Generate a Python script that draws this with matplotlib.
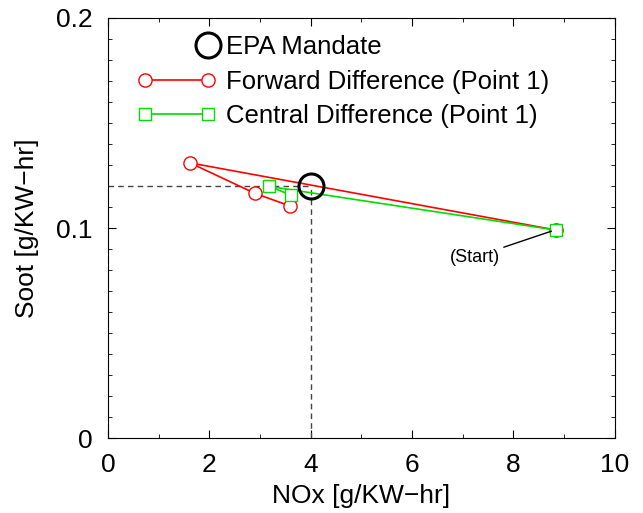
import numpy as np
import matplotlib
matplotlib.use('Agg')
import matplotlib.pyplot as plt
from matplotlib.lines import Line2D
from matplotlib.legend_handler import HandlerLine2D
from matplotlib.ticker import MultipleLocator

plt.rcParams['font.family'] = ['Liberation Sans', 'DejaVu Sans']

# Data
epa_nox, epa_soot = 4.0, 0.12
fwd_nox = [8.85, 1.62, 2.90, 3.59]
fwd_soot = [0.099, 0.131, 0.1165, 0.1105]
cen_nox = [8.85, 3.18, 3.61]
cen_soot = [0.099, 0.1198, 0.1157]


class HandlerRightMarker(HandlerLine2D):
    # put the single marker at the right end of the handle box
    def get_xdata(self, legend, xdescent, ydescent, width, height, fontsize):
        xdata = np.array([-xdescent + width - 0.3 * fontsize] * 2)
        return xdata, xdata


fig = plt.figure(figsize=(6.43, 5.13), dpi=100)
ax = fig.add_axes([0.168, 0.146, 0.788, 0.819])

# guide lines to the EPA mandate
ax.plot([0, epa_nox], [epa_soot, epa_soot], ls=(0, (4, 3)), color='#444444', lw=1)
ax.plot([epa_nox, epa_nox], [0, epa_soot], ls=(0, (4, 3)), color='#444444', lw=1)

ax.plot(fwd_nox, fwd_soot, '-o', color='red', mfc='white', mec='red', ms=9.5, lw=1.2, mew=1)
ax.plot(cen_nox, cen_soot, '-s', color='#00dd00', mfc='white', mec='#00dd00', ms=8, lw=1.2, mew=1)
ax.plot([epa_nox], [epa_soot], 'o', mfc='none', mec='black', ms=18, mew=2.2)

ax.annotate('(Start)', xy=(8.75, 0.0985), xytext=(7.73, 0.0862), fontsize=13,
            ha='right', va='center',
            arrowprops=dict(arrowstyle='-', color='black', lw=1, shrinkA=1, shrinkB=0))

ax.set_xlim(0, 10)
ax.set_ylim(0, 0.2)
ax.set_xticks([0, 2, 4, 6, 8, 10])
ax.set_yticks([0, 0.1, 0.2])
ax.set_yticklabels(['0', '0.1', '0.2'])
ax.xaxis.set_minor_locator(MultipleLocator(1))
ax.yaxis.set_minor_locator(MultipleLocator(0.01))
ax.tick_params(which='both', direction='in', top=True, right=True)
ax.tick_params(which='major', labelsize=19, length=6, pad=11)
ax.tick_params(which='minor', length=3)
ax.set_xlabel('NOx [g/KW\u2212hr]', fontsize=19, labelpad=5)
ax.set_ylabel('Soot [g/KW\u2212hr]', fontsize=19, labelpad=12)

h_epa = Line2D([0], [0], marker='o', ls='none', mfc='none', mec='black', ms=18, mew=2.2)
h_fwd = Line2D([0], [0], marker='o', color='red', mfc='white', mec='red', ms=9.5, lw=1.2)
h_cen = Line2D([0], [0], marker='s', color='#00dd00', mfc='white', mec='#00dd00', ms=8, lw=1.2)
ax.legend([h_epa, h_fwd, h_cen],
          ['EPA Mandate', 'Forward Difference (Point 1)', 'Central Difference (Point 1)'],
          handler_map={h_epa: HandlerRightMarker(numpoints=1)},
          loc='upper left', bbox_to_anchor=(0.037, 0.983), frameon=False, fontsize=18.5,
          numpoints=2, handlelength=3.06, handletextpad=0.4, labelspacing=0.4,
          borderaxespad=0)

fig.savefig('out.png', dpi=100)
